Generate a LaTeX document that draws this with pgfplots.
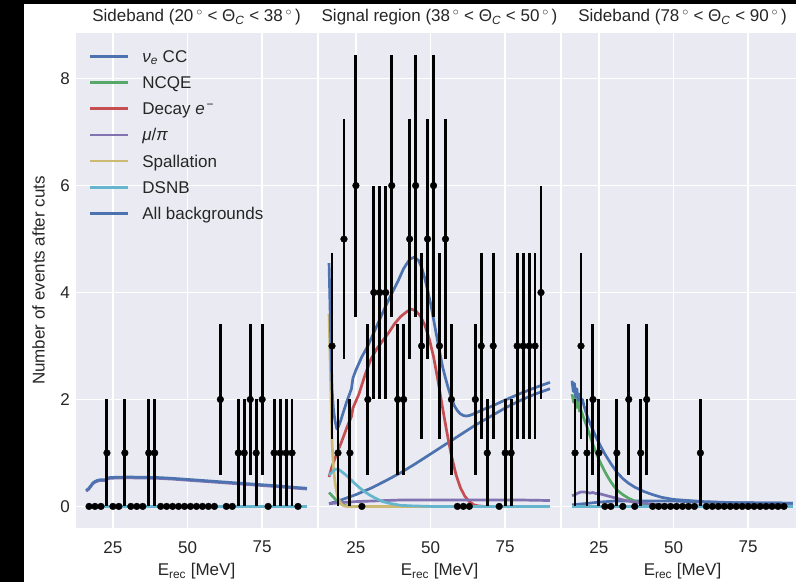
\documentclass[border=0pt]{standalone}
\usepackage{pgfplots}
\pgfplotsset{compat=1.18}
\usepackage{pgfplotstable}
\usepackage{fontspec}
\setmainfont{Liberation Sans}
\definecolor{cbg}{HTML}{EAEAF2}
\definecolor{cblue}{HTML}{4C72B0}
\definecolor{cgreen}{HTML}{55A868}
\definecolor{cred}{HTML}{C44E52}
\definecolor{cpurple}{HTML}{8172B2}
\definecolor{cyellow}{HTML}{CCB974}
\definecolor{ccyan}{HTML}{64B5CD}
\definecolor{ctext}{HTML}{262626}
\newcommand{\fs}{\fontsize{17}{20}\selectfont}

\pgfplotstableread{
x n e
17 0 0
19 0 0
21 0 0
23 1 1
25 0 0
27 0 0
29 1 1
31 0 0
33 0 0
35 0 0
37 1 1
39 1 1
41 0 0
43 0 0
45 0 0
47 0 0
49 0 0
51 0 0
53 0 0
55 0 0
57 0 0
59 0 0
61 2 1.414
63 0 0
65 0 0
67 1 1
69 1 1
71 2 1.414
73 1 1
75 2 1.414
77 0 0
79 1 1
81 1 1
83 1 1
85 1 1
87 0 0
}\dataA

\pgfplotstableread{
x n e
17 3 1.732
19 1 1
21 5 2.236
23 1 1
25 6 2.449
27 0 0
29 2 1.414
31 4 2
33 4 2
35 4 2
37 6 2.449
39 2 1.414
41 2 1.414
43 5 2.236
45 6 2.449
47 3 1.732
49 5 2.236
51 6 2.449
53 3 1.732
55 5 2.236
57 2 1.414
59 0 0
61 0 0
63 0 0
65 2 1.414
67 3 1.732
69 1 1
71 3 1.732
73 0 0
75 1 1
77 1 1
79 3 1.732
81 3 1.732
83 3 1.732
85 3 1.732
87 4 2
}\dataB

\pgfplotstableread{
x n e
17 1 1
19 3 1.732
21 1 1
23 2 1.414
25 1 1
27 0 0
29 0 0
31 1 1
33 0 0
35 2 1.414
37 0 0
39 1 1
41 2 1.414
43 0 0
45 0 0
47 0 0
49 0 0
51 0 0
53 0 0
55 0 0
57 0 0
59 1 1
61 0 0
63 0 0
65 0 0
67 0 0
69 0 0
71 0 0
73 0 0
75 0 0
77 0 0
79 0 0
81 0 0
83 0 0
85 0 0
87 0 0
}\dataC

\pgfplotsset{
  panel/.style={
    anchor=south west,
    width=243pt, height=497pt, scale only axis,
    xmin=12.3, xmax=93.7, ymin=-0.4225, ymax=8.872,
    xtick={25,50,75}, ytick={0,2,4,6,8},
    axis background/.style={fill=cbg},
    grid=major, major grid style={white, line width=1.5pt},
    axis line style={white, line width=1.25pt},
    major tick length=0pt,
    tick label style={font=\fs, text=ctext},
    /pgf/number format/assume math mode=true,
    xticklabel style={anchor=north, inner sep=0pt, yshift=-12pt},
    yticklabel style={anchor=east, inner sep=0pt, xshift=-5pt},
    xlabel={E\textsubscript{rec} [MeV]},
    xlabel style={font=\fs, text=ctext, at={(axis description cs:0.5,0)}, anchor=north, inner sep=0pt, yshift=-34pt},
    title style={font=\fs, text=ctext, at={(axis description cs:0.5,1)}, anchor=base, inner sep=0pt, yshift=4pt},
    every axis plot/.append style={line width=2.7pt, line join=round},
  },
  datapts/.style={only marks, mark=*, mark size=3.4pt, black, mark options={line width=0.3pt},
    error bars/.cd, y dir=both, y explicit, error mark=none,
    error bar style={line width=2.9pt, black}},
}

\begin{document}
\begin{tikzpicture}[x=1pt,y=1pt]
\useasboundingbox (0,0) rectangle (796,582);
\fill[white] (0,0) rectangle (796,582);

% ---------------- Panel 1 ----------------
\begin{axis}[panel, at={(75pt,53pt)},
  title={Sideband (20\,$^{\circ}$\ < Θ\textsubscript{\textit{C}} < 38\,$^{\circ}$\,)},
  ylabel={Number of events after cuts},
  ylabel style={font=\fs, text=ctext, at={(axis description cs:-0.1235,0.5)}, anchor=south, inner sep=0pt},
  legend cell align=left,
  legend style={draw=none, fill=none, at={(axis description cs:0,1)}, anchor=north west,
    xshift=13.5pt, yshift=-18pt, inner sep=0pt, row sep=14pt, column sep=13pt,
    font=\fs, text=ctext, nodes={inner sep=0pt, text height=12.2pt, text depth=0pt}},
  legend image code/.code={\draw[#1, line width=2.7pt] (0pt,0pt) -- (38pt,0pt);},
]
\addplot[cblue] coordinates {(16,0.005) (90,0.005)};
\addlegendentry{\textit{ν}\textsubscript{\textit{e}} CC}
\addplot[cgreen] coordinates {(16,0) (90,0)};
\addlegendentry{NCQE}
\addplot[cred] coordinates {(16,0) (90,0)};
\addlegendentry{Decay \textit{e}\textsuperscript{\,−}}
\addplot[cpurple] coordinates {(16,0.285) (16.8,0.315) (17.5,0.365) (18.3,0.425) (19.1,0.455) (20,0.475) (21,0.485) (22.5,0.485) (23.2,0.515) (24,0.525) (26,0.53) (30,0.535) (35,0.53) (40,0.525) (45,0.51) (50,0.49) (55,0.47) (60,0.45) (65,0.43) (70,0.41) (75,0.39) (80,0.37) (85,0.345) (90,0.325)};
\addlegendentry{\textit{μ}/\textit{π}}
\addplot[cyellow] coordinates {(16,0) (90,0)};
\addlegendentry{Spallation}
\addplot[ccyan] coordinates {(16,0) (90,0)};
\addlegendentry{DSNB}
\addplot[cblue] coordinates {(16,0.30) (16.8,0.33) (17.5,0.38) (18.3,0.44) (19.1,0.47) (20,0.49) (21,0.50) (22.5,0.50) (23.2,0.53) (24,0.54) (26,0.545) (30,0.55) (35,0.545) (40,0.54) (45,0.525) (50,0.505) (55,0.485) (60,0.465) (65,0.445) (70,0.425) (75,0.405) (80,0.385) (85,0.36) (90,0.34)};
\addlegendentry{All backgrounds}
\addplot[forget plot, datapts] table[x=x, y=n, y error=e] {\dataA};
\end{axis}

% ---------------- Panel 2 ----------------
\begin{axis}[panel, at={(318pt,53pt)}, yticklabels={},
  title={Signal region (38\,$^{\circ}$\ < Θ\textsubscript{\textit{C}} < 50\,$^{\circ}$\,)},
]
\addplot[cblue] coordinates {(16,0.05) (20,0.12) (25,0.22) (30,0.34) (35,0.48) (40,0.63) (45,0.8) (50,0.98) (55,1.16) (60,1.34) (65,1.52) (70,1.68) (75,1.84) (80,1.98) (85,2.1) (90,2.2)};
\addplot[cgreen] coordinates {(16,0.26) (17,0.2) (18,0.14) (19,0.1) (20,0.05) (21,0.02) (22,0.01) (24,0) (90,0)};
\addplot[cred] coordinates {(16,0.55) (17,0.75) (18,0.9) (19,1.05) (20,1.18) (22,1.48) (23.5,1.68) (24,1.84) (26,2.1) (28,2.45) (30,2.75) (32,2.95) (34,3.1) (36,3.25) (38,3.42) (40,3.55) (42,3.64) (43.5,3.69) (45,3.66) (46.5,3.57) (48,3.4) (49.5,3.15) (51,2.8) (52.5,2.35) (54,1.85) (55.5,1.38) (57,0.95) (58.5,0.6) (60,0.35) (61.5,0.19) (63,0.09) (64.5,0.03) (66,0.01) (68,0) (90,0)};
\addplot[cpurple] coordinates {(16,0.05) (20,0.07) (25,0.09) (30,0.1) (40,0.12) (50,0.12) (60,0.12) (70,0.12) (80,0.12) (90,0.11)};
\addplot[cyellow] coordinates {(16,3.6) (16.5,2.4) (17,1.2) (17.5,0.7) (18,0.45) (18.6,0.25) (19,0.16) (20,0.05) (21,0.01) (22,0) (90,0)};
\addplot[ccyan] coordinates {(16,0.58) (17,0.64) (18,0.69) (19,0.7) (20,0.66) (22,0.57) (24,0.46) (26,0.36) (28,0.27) (30,0.2) (32,0.14) (34,0.09) (36,0.06) (38,0.04) (40,0.02) (44,0.01) (50,0) (90,0)};
\addplot[cblue] coordinates {(16,4.55) (16.5,3.3) (17,2.2) (17.5,1.8) (18,1.6) (18.6,1.45) (19.2,1.5) (20,1.62) (21,1.8) (22,1.97) (23,2.12) (23.5,2.2) (24,2.4) (25,2.55) (27,2.8) (29,3.0) (31,3.25) (33,3.5) (35,3.75) (37,3.98) (39,4.2) (41,4.45) (43,4.62) (44.5,4.66) (46,4.6) (47,4.47) (48,4.28) (49,4.05) (50,3.8) (51,3.5) (52,3.2) (53,2.9) (54,2.62) (55,2.4) (56,2.2) (57,2.02) (58,1.88) (59,1.79) (60,1.73) (61,1.7) (62,1.69) (63,1.7) (64,1.72) (66,1.77) (68,1.82) (70,1.86) (75,1.99) (80,2.11) (85,2.22) (90,2.32)};
\addplot[datapts] table[x=x, y=n, y error=e] {\dataB};
\end{axis}

% ---------------- Panel 3 ----------------
\begin{axis}[panel, at={(561pt,53pt)}, yticklabels={},
  title={Sideband (78\,$^{\circ}$\ < Θ\textsubscript{\textit{C}} < 90\,$^{\circ}$\,)},
]
\addplot[cblue] coordinates {(16,0.03) (20,0.05) (25,0.08) (30,0.1) (40,0.1) (50,0.1) (60,0.08) (70,0.07) (90,0.06)};
\addplot[cgreen] coordinates {(16,2.1) (16.5,1.95) (17,2.05) (17.5,1.85) (18,1.95) (18.5,1.78) (19,1.8) (20,1.64) (21,1.49) (22,1.32) (23,1.16) (24,1.01) (25,0.88) (26,0.76) (27,0.65) (28,0.55) (29,0.46) (30,0.38) (31.2,0.3) (33,0.22) (35,0.15) (37,0.1) (40,0.05) (43,0.02) (46,0.01) (50,0) (90,0)};
\addplot[cred] coordinates {(16,0) (90,0)};
\addplot[cpurple] coordinates {(16,0.2) (17,0.22) (18,0.25) (19,0.27) (20,0.27) (21,0.26) (22,0.25) (23,0.26) (24,0.24) (25,0.24) (27,0.21) (29,0.18) (31,0.15) (34,0.11) (38,0.07) (42,0.05) (46,0.03) (50,0.02) (60,0.01) (90,0.01)};
\addplot[cyellow] coordinates {(16,0) (90,0)};
\addplot[ccyan] coordinates {(16,0) (90,0)};
\addplot[cblue] coordinates {(16,2.35) (16.4,2.15) (16.8,2.3) (17.2,2.05) (17.6,2.2) (18,1.98) (18.5,2.1) (19,1.92) (19.5,2.0) (20,1.88) (21,1.7) (22,1.56) (23,1.43) (24,1.3) (25,1.19) (26,1.08) (27,0.98) (28,0.89) (29,0.8) (30,0.72) (31,0.64) (33,0.52) (35,0.43) (37,0.36) (40,0.28) (43,0.22) (46,0.17) (50,0.13) (55,0.11) (60,0.09) (65,0.08) (70,0.07) (80,0.065) (90,0.06)};
\addplot[datapts] table[x=x, y=n, y error=e] {\dataC};
\end{axis}

\fill[black] (0,0) rectangle (24,582);
\fill[black] (0,577.5) rectangle (796,582);
\end{tikzpicture}
\end{document}
